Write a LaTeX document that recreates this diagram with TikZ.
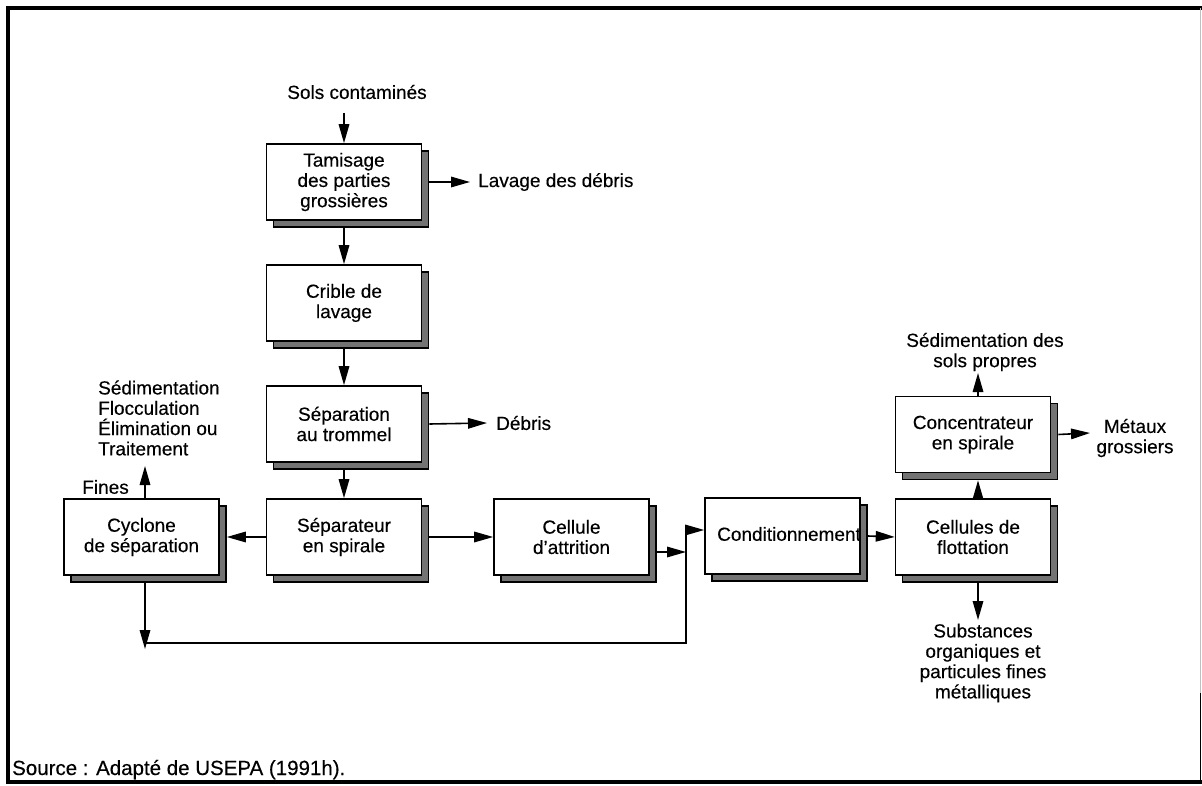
\documentclass[tikz,border=0pt]{standalone}
\usepackage{fontspec}
\setmainfont{Liberation Sans}[FakeBold=0.3]
\usetikzlibrary{arrows.meta,shadows}
\begin{document}
\begin{tikzpicture}[x=1pt,y=-1pt,
  txt/.style={font=\fontsize{19}{20.3}\selectfont},
  box/.style={txt, draw, line width=1.6pt, fill=white, minimum width=155pt,
    minimum height=76pt, align=center, inner sep=0pt,
    drop shadow={shadow xshift=7pt, shadow yshift=-7pt, opacity=1,
      fill=black!55, draw=black, line width=1.2pt}},
  lbl/.style={txt, align=center, inner sep=0pt},
  flow/.style={line width=1.6pt, -{Triangle[length=19pt,width=10.5pt]}},
  link/.style={line width=1.6pt},
]
\useasboundingbox (0,0) rectangle (1202,786);

% outer frame
\draw[line width=3.5pt] (1202,8) -- (8,8) -- (8,782) -- (1202,782);
\draw[gray!50, line width=1pt] (1200.5,8) -- (1200.5,693);
\draw[line width=1.5pt] (1200.5,693) -- (1200.5,782);

% process boxes
\node[box] (tam) at (344,182) {Tamisage\\des parties\\grossières};
\node[box] (cri) at (344,303) {Crible de\\lavage};
\node[box] (tro) at (344,424) {Séparation\\au trommel};
\node[box] (spi) at (344,537) {Séparateur\\en spirale};
\node[box] (cyc) at (141.5,537) {Cyclone\\de séparation};
\node[box] (att) at (571.5,537) {Cellule\\d'attrition};
\node[box] (con) at (782.5,536) {};
\node[lbl, anchor=west] (contxt) at (717,534) {Conditionnement};
\node[box] (flo) at (973,537) {Cellules de\\flottation};
\node[box] (cnc) at (973,434.5) {Concentrateur\\en spirale};

% inputs and outputs
\node[lbl] (sols) at (357,92) {Sols contaminés};
\node[lbl, anchor=west] (lav) at (478,182) {Lavage des débris};
\node[lbl, anchor=west] (deb) at (496,423) {Débris};
\node[lbl, align=left, anchor=west] (sed) at (98,418) {Sédimentation\\Flocculation\\Élimination ou\\Traitement};
\node[lbl, anchor=east] (fin) at (129,487) {Fines};
\node[lbl] (sedp) at (985,352) {Sédimentation des\\sols propres};
\node[lbl] (met) at (1135,438) {Métaux\\grossiers};
\node[lbl] (sub) at (983,663) {Substances\\organiques et\\particules fines\\métalliques};
\node[anchor=base west, inner sep=0pt, font=\fontsize{20.5}{24}\selectfont] (src) at (12,775) {Source : Adapté de USEPA (1991h).};

% free ends of connectors
\coordinate (solsin) at (344,113);
\coordinate (finup) at (145,466);
\coordinate (cycdown) at (145,649);
\coordinate (loopa) at (145,643);
\coordinate (junc) at (686,530);
\coordinate (juncb) at (686,552);
\coordinate (sedin) at (978,373);
\coordinate (metin) at (1090,433);
\coordinate (subin) at (978,620);

% connectors
\draw[flow] (solsin) -- (tam.north);
\draw[flow] ([xshift=6pt]tam.east) -- ([xshift=-8pt]lav.west);
\draw[flow] ([yshift=-7pt]tam.south) -- (cri.north);
\draw[flow] ([yshift=-7pt]cri.south) -- (tro.north);
\draw[flow] ([xshift=7pt]tro.east) -- ([xshift=-9pt]deb.west);
\draw[flow] ([yshift=-7pt]tro.south) -- (spi.north);
\draw[flow] (spi.west) -- ([xshift=7pt]cyc.east);
\draw[flow] ([xshift=7pt]spi.east) -- (att.west);
\draw[flow] ([xshift=3.5pt]cyc.north) -- (finup);
\draw[flow] ([xshift=3.5pt,yshift=-7pt]cyc.south) -- (cycdown);
\draw[link] (loopa) -| (junc);
\draw[flow] (junc) -- (junc -| con.west);
\draw[flow] ([xshift=7pt,yshift=-15pt]att.east) -- (juncb);
\draw[flow] ([xshift=7pt]con.east) -- (flo.west);
\draw[flow] ([xshift=5pt]flo.north) -- ([xshift=5pt,yshift=-7pt]cnc.south);
\draw[flow] ([xshift=5pt]cnc.north) -- (sedin);
\draw[flow] ([xshift=7pt]cnc.east) -- (metin);
\draw[flow] ([xshift=5pt,yshift=-7pt]flo.south) -- (subin);
\end{tikzpicture}
\end{document}
